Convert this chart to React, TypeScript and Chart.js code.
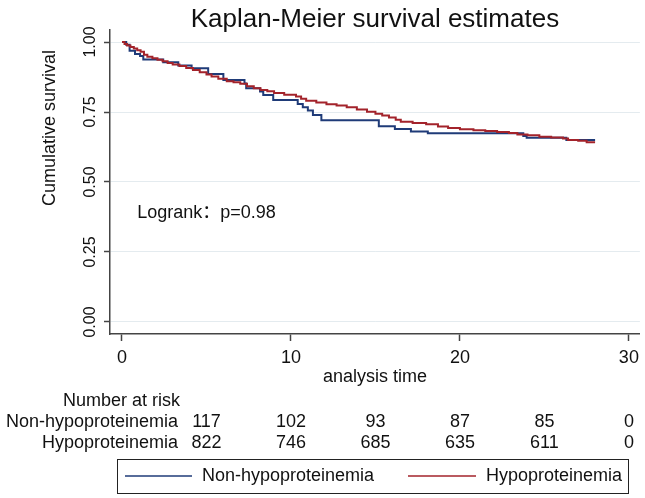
import React, { useEffect, useRef } from 'react';
import { Chart, registerables } from 'chart.js';

Chart.register(...registerables);

const FONT = '"Liberation Sans", Arial, "Noto Sans CJK SC", sans-serif';

const chartTitle = 'Kaplan-Meier survival estimates';
const yAxisTitle = 'Cumulative survival';
const xAxisTitle = 'analysis time';
const annotationText = 'Logrank：p=0.98';
const seriesNames = ['Non-hypoproteinemia', 'Hypoproteinemia'];
const seriesColors = ['#1f3b78', '#a3232b'];

// Non-hypoproteinemia (step breakpoints)
const nonTimes = [0, 0.25, 0.45, 0.77, 1.07, 1.26, 2.44, 3.33, 4.12, 5.1, 6.0, 7.25, 7.35, 8.17, 8.36, 8.95, 10.4, 10.7, 11.0, 11.3, 11.8, 15.2, 16.15, 17.1, 18.1, 23.75, 23.95, 26.3, 28.0];
const nonSurv = [1.0, 0.99, 0.969, 0.957, 0.95, 0.938, 0.928, 0.916, 0.906, 0.886, 0.864, 0.852, 0.835, 0.823, 0.811, 0.793, 0.779, 0.767, 0.755, 0.739, 0.721, 0.699, 0.689, 0.68, 0.674, 0.664, 0.658, 0.65, 0.65];

// Hypoproteinemia
const hypoTimes = [0, 0.15, 0.3, 0.5, 0.7, 0.9, 1.1, 1.3, 1.5, 1.8, 2.1, 2.4, 2.7, 3.0, 3.4, 3.8, 4.2, 4.6, 5.0, 5.3, 5.7, 6.2, 6.6, 7.0, 7.4, 7.8, 8.2, 8.6, 9.0, 9.6, 10.3, 10.6, 10.9, 11.5, 12.1, 12.7, 13.3, 13.9, 14.5, 15.0, 15.4, 15.8, 16.2, 16.5, 17.2, 18.0, 18.7, 19.3, 20.0, 20.8, 21.5, 22.2, 22.9, 23.4, 24.0, 24.7, 25.4, 26.1, 26.4, 27.0, 27.5, 28.0];
const hypoSurv = [1.0, 0.993, 0.988, 0.982, 0.977, 0.971, 0.965, 0.955, 0.947, 0.942, 0.937, 0.931, 0.925, 0.92, 0.914, 0.907, 0.9, 0.892, 0.884, 0.877, 0.869, 0.86, 0.856, 0.851, 0.842, 0.835, 0.829, 0.824, 0.818, 0.812, 0.805, 0.797, 0.79, 0.784, 0.778, 0.773, 0.767, 0.759, 0.751, 0.744, 0.738, 0.73, 0.722, 0.715, 0.711, 0.706, 0.698, 0.693, 0.688, 0.685, 0.682, 0.679, 0.675, 0.67, 0.667, 0.662, 0.659, 0.655, 0.65, 0.647, 0.642, 0.642];

const xTicks = [0, 10, 20, 30];
const yTicks = [0, 0.25, 0.5, 0.75, 1.0];

const riskTitle = 'Number at risk';
const riskTimes = [5, 10, 15, 20, 25, 30];
const riskNon = [117, 102, 93, 87, 85, 0];
const riskHypo = [822, 746, 685, 635, 611, 0];

const overlayPlugin = {
  id: 'kmOverlay',
  afterDraw(chart: any) {
    const { ctx, chartArea } = chart;
    const xs = chart.scales.x;
    const ys = chart.scales.y;
    ctx.save();
    ctx.fillStyle = '#111';

    // title
    ctx.font = `26px ${FONT}`;
    ctx.textAlign = 'center';
    ctx.textBaseline = 'alphabetic';
    ctx.fillText(chartTitle, (chartArea.left + chartArea.right) / 2, 27);

    // y-axis title
    ctx.save();
    ctx.font = `18px ${FONT}`;
    ctx.translate(50, 128);
    ctx.rotate(-Math.PI / 2);
    ctx.textAlign = 'center';
    ctx.textBaseline = 'middle';
    ctx.fillText(yAxisTitle, 0, 0);
    ctx.restore();

    // annotation
    ctx.font = `18px ${FONT}`;
    ctx.textAlign = 'left';
    ctx.textBaseline = 'middle';
    ctx.fillText(annotationText, xs.getPixelForValue(0.9), ys.getPixelForValue(0.39));

    // risk table
    ctx.textAlign = 'right';
    ctx.fillText(riskTitle, 180, 401);
    ctx.fillText(seriesNames[0], 178, 422);
    ctx.fillText(seriesNames[1], 178, 443);
    ctx.textAlign = 'center';
    riskTimes.forEach((t, i) => {
      const px = xs.getPixelForValue(t);
      ctx.fillText(String(riskNon[i]), px, 422);
      ctx.fillText(String(riskHypo[i]), px, 443);
    });

    // legend box
    ctx.strokeStyle = '#222';
    ctx.lineWidth = 1;
    ctx.strokeRect(117.5, 459.5, 511, 34);
    const legendItems = [
      { x0: 125, x1: 192, tx: 202 },
      { x0: 408, x1: 476, tx: 486 },
    ];
    legendItems.forEach((it, i) => {
      ctx.strokeStyle = seriesColors[i];
      ctx.lineWidth = 1.5;
      ctx.beginPath();
      ctx.moveTo(it.x0, 476);
      ctx.lineTo(it.x1, 476);
      ctx.stroke();
      ctx.fillStyle = '#111';
      ctx.textAlign = 'left';
      ctx.fillText(seriesNames[i], it.tx, 476);
    });
    ctx.restore();
  },
};

export default function App() {
  const canvasRef = useRef<HTMLCanvasElement | null>(null);

  useEffect(() => {
    const canvas = canvasRef.current;
    if (!canvas) return;
    const chart = new Chart(canvas, {
      type: 'line',
      data: {
        datasets: [
          {
            label: seriesNames[0],
            data: nonTimes.map((t, i) => ({ x: t, y: nonSurv[i] })),
            borderColor: seriesColors[0],
            borderWidth: 2,
            pointRadius: 0,
            stepped: true,
            fill: false,
            order: 1,
          },
          {
            label: seriesNames[1],
            data: hypoTimes.map((t, i) => ({ x: t, y: hypoSurv[i] })),
            borderColor: seriesColors[1],
            borderWidth: 2,
            pointRadius: 0,
            stepped: true,
            fill: false,
            order: 0,
          },
        ],
      },
      options: {
        responsive: false,
        animation: false,
        devicePixelRatio: 1,
        layout: { padding: { left: 0, top: 30, right: 5, bottom: 110 } },
        plugins: {
          legend: { display: false },
          title: { display: false },
          tooltip: { enabled: false },
        },
        scales: {
          x: {
            type: 'linear',
            min: -0.71,
            max: 30.65,
            afterBuildTicks: (scale: any) => {
              scale.ticks = xTicks.map((v) => ({ value: v }));
            },
            afterFit: (scale: any) => {
              scale.height = 54;
            },
            border: { display: true, color: '#444', width: 1.5 },
            grid: { display: true, drawOnChartArea: false, drawTicks: true, tickLength: 7, tickColor: '#444', tickWidth: 1.5 },
            ticks: {
              color: '#111',
              font: { family: FONT, size: 18 },
              padding: 6,
              maxRotation: 0,
              autoSkip: false,
              callback: (v: any) => String(v),
            },
            title: {
              display: true,
              text: xAxisTitle,
              color: '#111',
              font: { family: FONT, size: 18 },
              padding: 0,
            },
          },
          y: {
            type: 'linear',
            min: -0.043,
            max: 1.043,
            afterBuildTicks: (scale: any) => {
              scale.ticks = yTicks.map((v) => ({ value: v }));
            },
            afterFit: (scale: any) => {
              scale.width = 110;
            },
            border: { display: true, color: '#444', width: 1.5 },
            grid: { display: true, drawOnChartArea: true, color: '#e4ebef', lineWidth: 1, drawTicks: true, tickLength: 6, tickColor: '#444', tickWidth: 1.5 },
            ticks: {
              color: '#111',
              font: { family: FONT, size: 16 },
              padding: -2,
              minRotation: 90,
              maxRotation: 90,
              crossAlign: 'center',
              autoSkip: false,
              callback: (v: any) => Number(v).toFixed(2),
            },
          },
        },
      },
      plugins: [overlayPlugin],
    });
    return () => chart.destroy();
  }, []);

  return (
    <div style={{ position: 'fixed', left: 0, top: 0, width: 645, height: 498, background: '#fff' }}>
      <canvas ref={canvasRef} width={645} height={498} style={{ display: 'block' }} />
    </div>
  );
}
